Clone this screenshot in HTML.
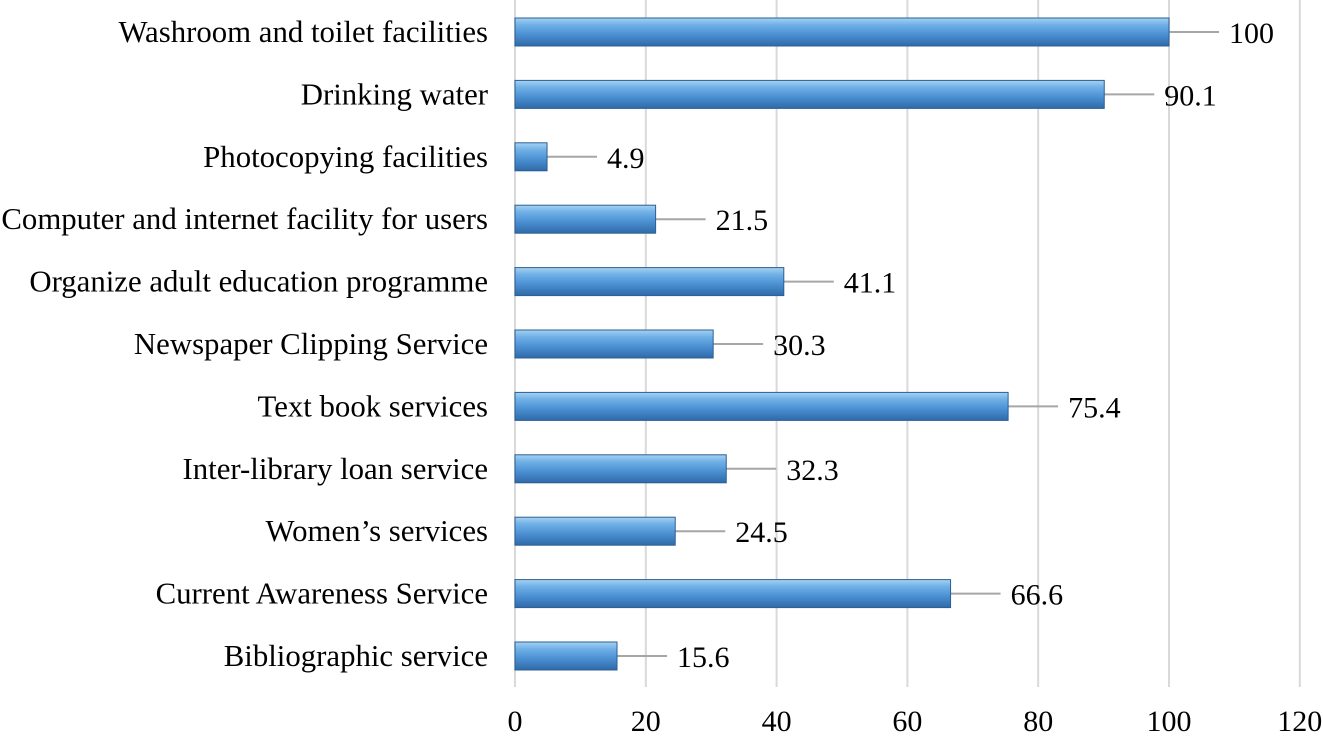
<!DOCTYPE html>
<html><head><meta charset="utf-8"><style>
body{margin:0;background:#fff;}
svg{display:block;font-family:"Liberation Serif",serif;}
</style></head><body>
<svg id="chart" width="1323" height="743" viewBox="0 0 1323 743">
<defs>
<linearGradient id="bg" x1="0" y1="0" x2="0" y2="1">
<stop offset="0" stop-color="#a6d2f2"/><stop offset="0.25" stop-color="#6fb0e6"/>
<stop offset="0.6" stop-color="#4a8fd2"/><stop offset="1" stop-color="#2f6aa8"/>
</linearGradient>
</defs>
<g id="grid"></g><g id="bars"></g><g id="labels"></g>
</svg>
<script>
const categories=["Washroom and toilet facilities","Drinking water ","Photocopying facilities","Computer and internet facility for users","Organize adult education programme","Newspaper Clipping Service","Text book services","Inter-library loan service","Women’s services","Current Awareness Service","Bibliographic service"];
const values=[100,90.1,4.9,21.5,41.1,30.3,75.4,32.3,24.5,66.6,15.6];
const valueLabels=["100","90.1","4.9","21.5","41.1","30.3","75.4","32.3","24.5","66.6","15.6"];
const ticks=[0,20,40,60,80,100,120];
const NS="http://www.w3.org/2000/svg";
const x=v=>515+v*6.54;
const y=i=>32+i*62.4;
function mk(tag,attrs,parent){const e=document.createElementNS(NS,tag);for(const k in attrs)e.setAttribute(k,attrs[k]);parent.appendChild(e);return e;}
const grid=document.getElementById('grid'),bars=document.getElementById('bars'),labels=document.getElementById('labels');
ticks.forEach(t=>{
 const l=mk('line',{x1:x(t),x2:x(t),y1:0,y2:687,stroke:'#d9d9d9','stroke-width':2},grid);
 
 
 const tx=mk('text',{x:x(t),y:731,'text-anchor':'middle','font-size':30,fill:'#000'},labels);
 tx.textContent=t;
 
 
});
categories.forEach((c,i)=>{
 const cy=y(i),v=values[i],xe=x(v);
 const ld=mk('line',{x1:xe,x2:xe+50,y1:cy,y2:cy,stroke:'#a6a6a6','stroke-width':2},bars);
 
 
 const r=mk('rect',{x:x(0),y:cy-14,width:xe-x(0),height:28,fill:'url(#bg)',stroke:'#2d5f95','stroke-width':1},bars);
 
 
 const cl=mk('text',{x:488,y:cy+10,'text-anchor':'end','font-size':30.8,fill:'#000'},labels);
 cl.textContent=c;
 
 
 const vl=mk('text',{x:xe+60,y:cy+11,'font-size':30,fill:'#000'},labels);
 vl.textContent=valueLabels[i];
 
 
});
</script>
</body></html>
